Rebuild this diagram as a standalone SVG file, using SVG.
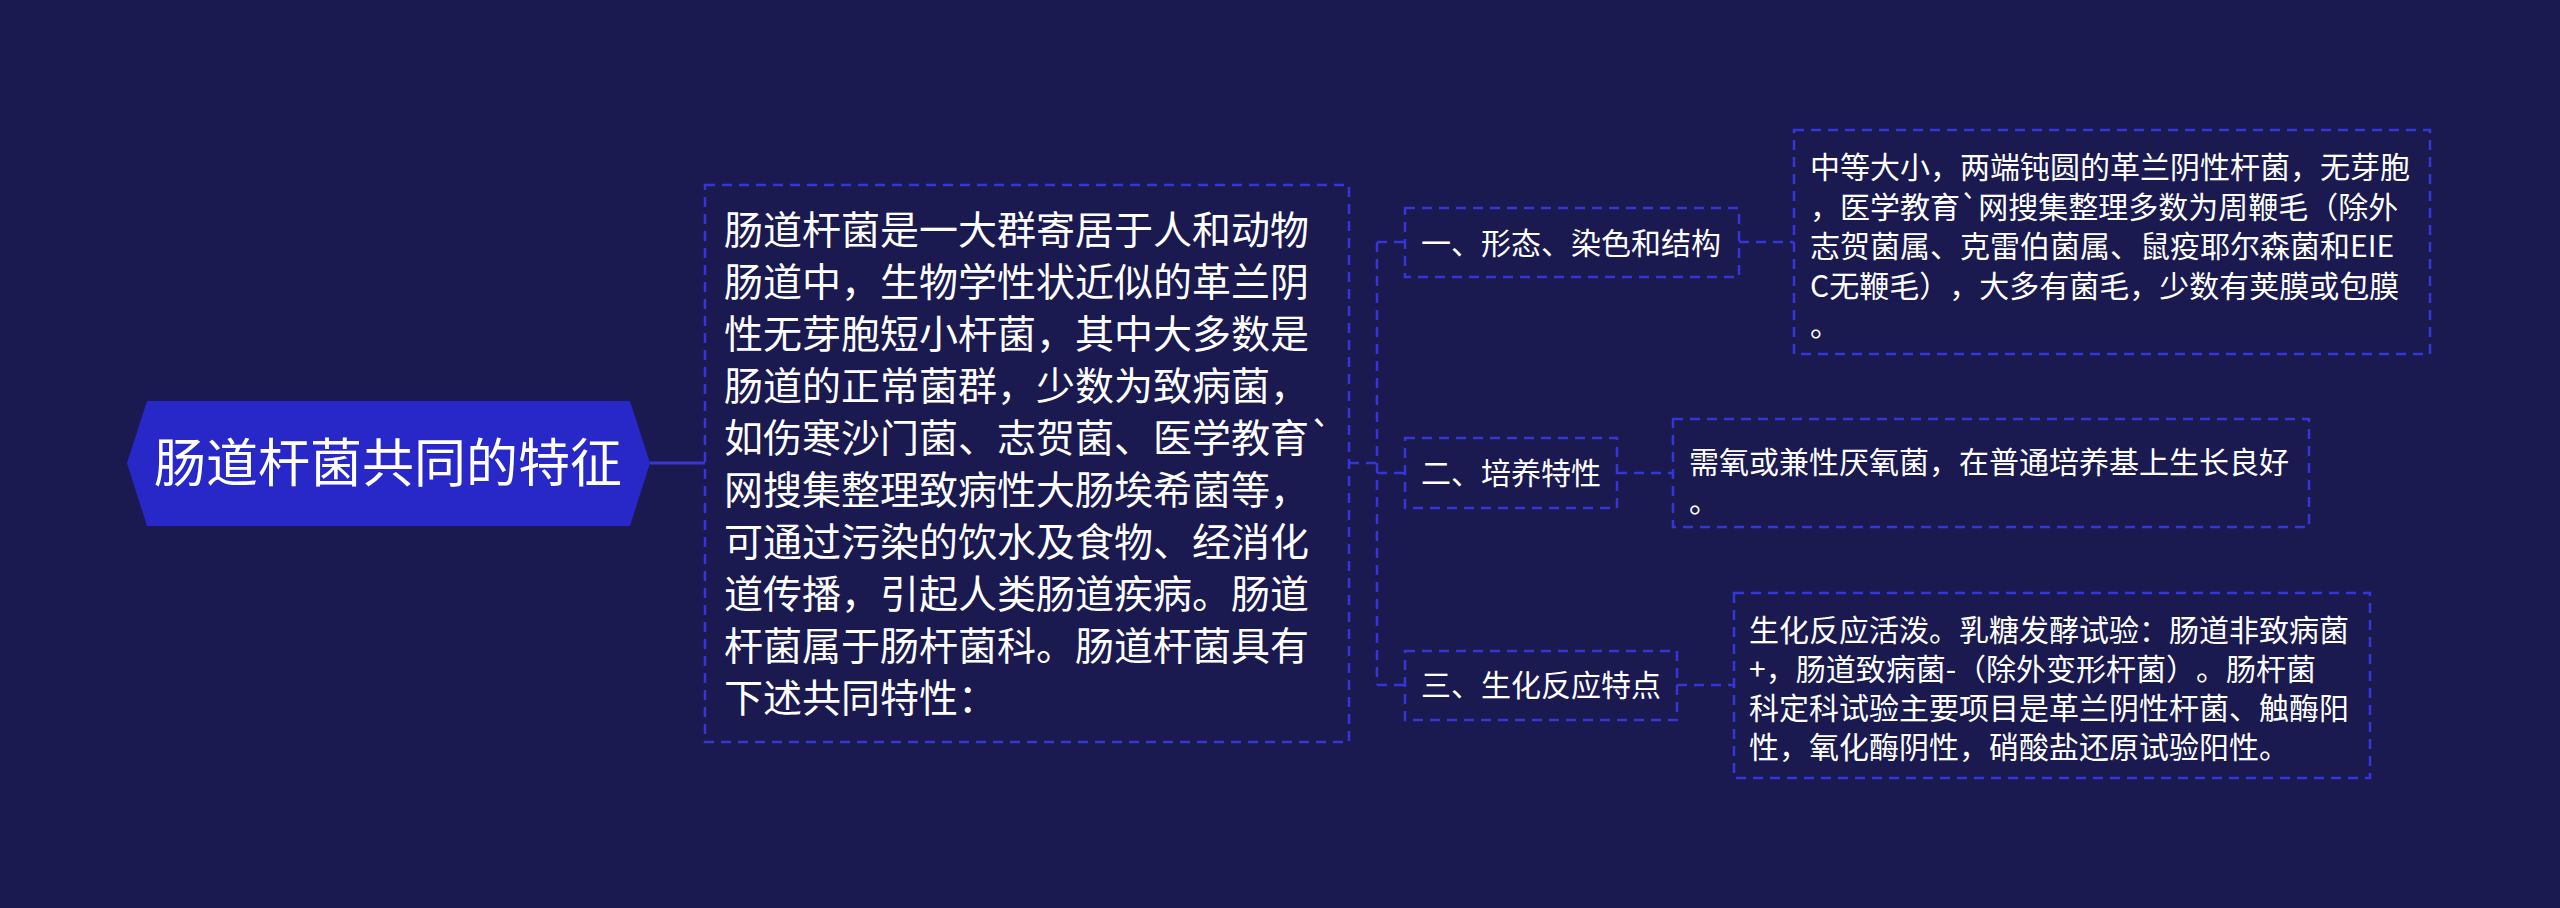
<svg xmlns="http://www.w3.org/2000/svg" width="2560" height="908" viewBox="0 0 2560 908">
<style>
.box{fill:none;stroke:#3636d6;stroke-width:2.5;stroke-dasharray:10 7}
.con{fill:none;stroke:#3636d6;stroke-width:2.5;stroke-dasharray:10 7}
.t{fill:#ffffff;font-family:"Noto Sans CJK SC","Noto Sans",sans-serif;text-spacing-trim:space-all}
.main{font-size:39px}
.leaf{font-size:30px}
</style>
<rect x="0" y="0" width="2560" height="908" fill="#1a1a50"/>
<g id="connectors">
<path d="M650,463 H705" fill="none" stroke="#3636d6" stroke-width="3"/>
<path class="con" d="M1349,463 H1377"/>
<path class="con" d="M1377,242 V685"/>
<path class="con" d="M1377,242 H1405"/>
<path class="con" d="M1377,473 H1405"/>
<path class="con" d="M1377,685 H1405"/>
<path class="con" d="M1739,242 H1794"/>
<path class="con" d="M1617,473 H1673"/>
<path class="con" d="M1677,685 H1734"/>
</g>
<g id="root">
<polygon points="127,463 147,401 630,401 650,463 630,526 147,526" fill="#2828c8"/>
<text class="t" x="388" y="482" font-size="52" text-anchor="middle">肠道杆菌共同的特征</text>
</g>
<g id="main">
<rect class="box" x="705" y="185" width="644" height="557"/>
<text class="t main" x="724">
<tspan x="724" y="244">肠道杆菌是一大群寄居于人和动物</tspan>
<tspan x="724" y="296">肠道中，生物学性状近似的革兰阴</tspan>
<tspan x="724" y="348">性无芽胞短小杆菌，其中大多数是</tspan>
<tspan x="724" y="400">肠道的正常菌群，少数为致病菌，</tspan>
<tspan x="724" y="452">如伤寒沙门菌、志贺菌、医学教育`</tspan>
<tspan x="724" y="504">网搜集整理致病性大肠埃希菌等，</tspan>
<tspan x="724" y="556">可通过污染的饮水及食物、经消化</tspan>
<tspan x="724" y="608">道传播，引起人类肠道疾病。肠道</tspan>
<tspan x="724" y="660">杆菌属于肠杆菌科。肠道杆菌具有</tspan>
<tspan x="724" y="712">下述共同特性：</tspan>
</text>
</g>
<g id="node1">
<rect class="box" x="1405" y="208" width="334" height="69"/>
<text class="t leaf" x="1421" y="254">一、形态、染色和结构</text>
</g>
<g id="node2">
<rect class="box" x="1405" y="438" width="212" height="70"/>
<text class="t leaf" x="1421" y="484">二、培养特性</text>
</g>
<g id="node3">
<rect class="box" x="1405" y="651" width="272" height="69"/>
<text class="t leaf" x="1421" y="696">三、生化反应特点</text>
</g>
<g id="leaf1">
<rect class="box" x="1794" y="130" width="636" height="224"/>
<text class="t leaf">
<tspan x="1810" y="178">中等大小，两端钝圆的革兰阴性杆菌，无芽胞</tspan>
<tspan x="1810" y="218">，医学教育`网搜集整理多数为周鞭毛（除外</tspan>
<tspan x="1810" y="257">志贺菌属、克雷伯菌属、鼠疫耶尔森菌和EIE</tspan>
<tspan x="1810" y="297">C无鞭毛），大多有菌毛，少数有荚膜或包膜</tspan>
<tspan x="1810" y="336">。</tspan>
</text>
</g>
<g id="leaf2">
<rect class="box" x="1673" y="419" width="636" height="108"/>
<text class="t leaf">
<tspan x="1689" y="473">需氧或兼性厌氧菌，在普通培养基上生长良好</tspan>
<tspan x="1689" y="512">。</tspan>
</text>
</g>
<g id="leaf3">
<rect class="box" x="1734" y="593" width="636" height="185"/>
<text class="t leaf">
<tspan x="1749" y="641">生化反应活泼。乳糖发酵试验：肠道非致病菌</tspan>
<tspan x="1749" y="680">+，肠道致病菌-（除外变形杆菌）。肠杆菌</tspan>
<tspan x="1749" y="719">科定科试验主要项目是革兰阴性杆菌、触酶阳</tspan>
<tspan x="1749" y="758">性，氧化酶阴性，硝酸盐还原试验阳性。</tspan>
</text>
</g>
</svg>
